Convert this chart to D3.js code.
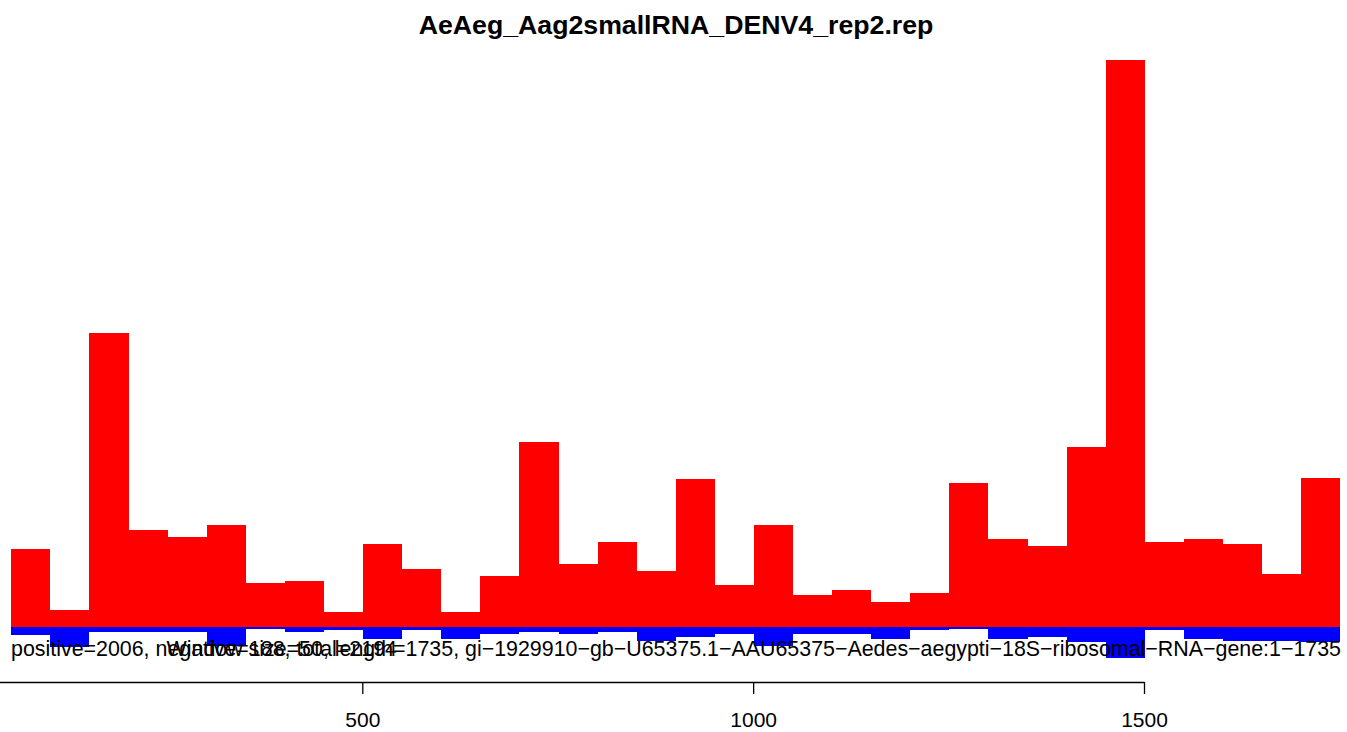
<!DOCTYPE html>
<html>
<head>
<meta charset="utf-8">
<script src="https://cdn.jsdelivr.net/npm/d3@7"></script>
<style>
    body { margin: 0; background: #fff; }
    text { font-family: "Liberation Sans", Arial, sans-serif; fill: #000; }
    .title { font-weight: bold; font-size: 26.7px; }
    .note { font-size: 21.4px; }
    .axis text { font-size: 21px; font-family: "Liberation Sans", Arial, sans-serif; }
    .axis path, .axis line { stroke: #000; stroke-width: 1.3; }
</style>
</head>
<body>
<div id="chart"></div>
<script>
    // window starts (size 50) along the 18S sequence
    let windowStarts = [51, 101, 151, 201, 251, 301, 351, 401, 451, 501, 551, 601, 651, 701, 751, 801, 851,
        901, 951, 1001, 1051, 1101, 1151, 1201, 1251, 1301, 1351, 1401, 1451, 1501, 1551, 1601, 1651, 1701];
    let windowSize = 50;

    // reads per window
    let positive = [46, 10, 173, 57, 53, 60, 26, 27, 9, 49, 34, 9, 30, 109, 37, 50, 33,
        87, 25, 60, 19, 22, 15, 20, 85, 52, 48, 106, 334, 50, 52, 49, 31, 88];
    let negative = [5, 12, 3, 3, 3, 11, 1, 3, 2, 7, 2, 7, 4, 3, 4, 3, 8,
        6, 4, 11, 4, 4, 7, 2, 1, 7, 6, 9, 18, 2, 7, 8, 8, 9];

    let xTicks = [0, 500, 1000, 1500];

    let title = "AeAeg_Aag2smallRNA_DENV4_rep2.rep";
    let leftNote = "positive=2006, negative=188, total=2194";
    let rightNote = "Window size=50, length=1735, gi\u22121929910\u2212gb\u2212U65375.1\u2212AAU65375\u2212Aedes\u2212aegypti\u221218S\u2212ribosomal\u2212RNA\u2212gene:1\u22121735";

    let width = 1347, height = 732;
    let plotLeft = 11, plotRight = 1341, zeroY = 627, topY = 60, axisY = 682;

    let svg = d3.select("#chart")
        .append("svg")
        .attr("width", width)
        .attr("height", height);

    let x = d3.scaleLinear()
        .domain([500, 1500])
        .range([362.3, 1144]);

    let y = d3.scaleLinear()
        .domain([0, d3.max(positive)])
        .range([zeroY, topY]);

    let data = windowStarts.map((s, i) => ({start: s, pos: positive[i], neg: negative[i]}));

    // positive strand bars
    svg.selectAll(".barPos")
        .data(data)
        .join("rect")
        .attr("class", "barPos")
        .attr("x", d => x(d.start))
        .attr("y", d => y(d.pos))
        .attr("width", d => x(d.start + windowSize) - x(d.start))
        .attr("height", d => y(0) - y(d.pos))
        .attr("fill", "#ff0000")
        .attr("shape-rendering", "crispEdges");

    // negative strand bars
    svg.selectAll(".barNeg")
        .data(data)
        .join("rect")
        .attr("class", "barNeg")
        .attr("x", d => x(d.start))
        .attr("y", y(0))
        .attr("width", d => x(d.start + windowSize) - x(d.start))
        .attr("height", d => y(-d.neg) - y(0))
        .attr("fill", "#0000ff")
        .attr("shape-rendering", "crispEdges");

    // x axis, line runs from first to last tick like R (0 sits off the page)
    let xAxisScale = x.copy()
        .domain([0, 1500])
        .range([x(0), x(1500)]);

    svg.append("g")
        .attr("class", "axis")
        .attr("transform", `translate(0, ${axisY})`)
        .call(d3.axisBottom(xAxisScale)
            .tickValues(xTicks)
            .tickSize(12)
            .tickSizeOuter(0)
            .tickPadding(18)
            .tickFormat(d => d === 0 ? "" : d));

    svg.selectAll(".axis text").attr("fill", "#000");

    // title
    svg.append("text")
        .attr("class", "title")
        .attr("x", (plotLeft + plotRight) / 2)
        .attr("y", 34)
        .attr("text-anchor", "middle")
        .text(title);

    // notes under the bars
    svg.append("text")
        .attr("class", "note")
        .attr("x", plotLeft)
        .attr("y", 656)
        .text(leftNote);

    svg.append("text")
        .attr("class", "note")
        .attr("x", plotRight)
        .attr("y", 656)
        .attr("text-anchor", "end")
        .text(rightNote);
</script>
</body>
</html>
